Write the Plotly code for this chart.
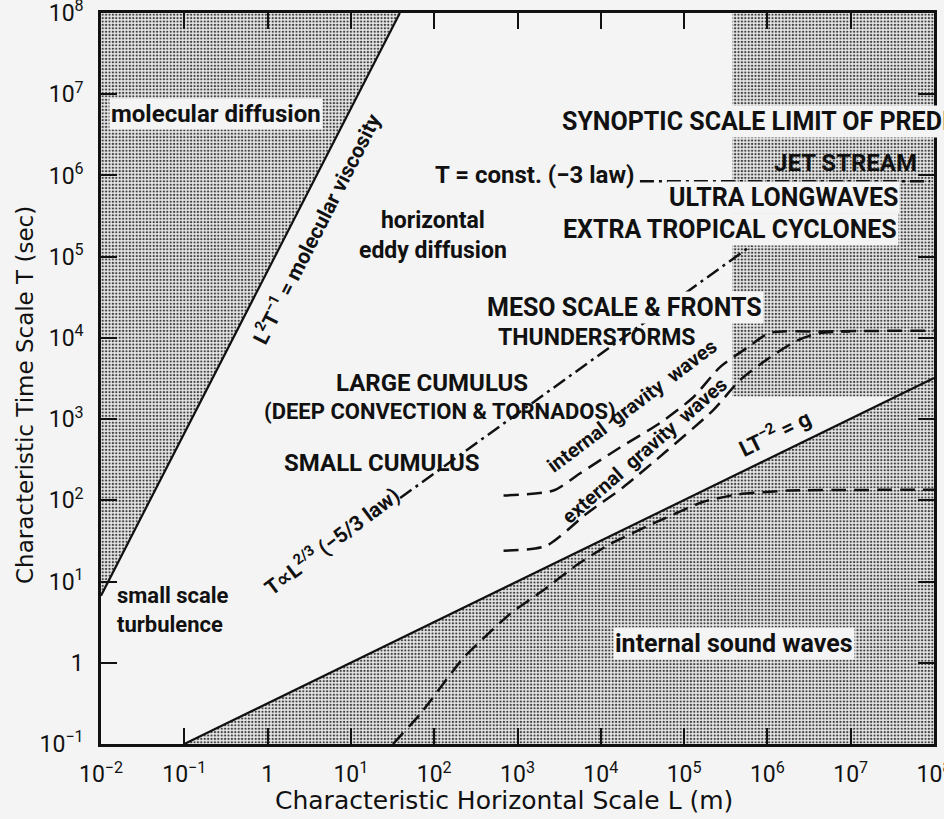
import plotly.graph_objects as go

# ---------------- data ----------------
x_tickvals = [1e-2, 1e-1, 1, 1e1, 1e2, 1e3, 1e4, 1e5, 1e6, 1e7, 1e8]
x_ticktext = ["10<sup>−2</sup>", "10<sup>−1</sup>", "1", "10<sup>1</sup>", "10<sup>2</sup>",
              "10<sup>3</sup>", "10<sup>4</sup>", "10<sup>5</sup>", "10<sup>6</sup>",
              "10<sup>7</sup>", "10<sup>8</sup>"]
y_tickvals = [1e-1, 1, 1e1, 1e2, 1e3, 1e4, 1e5, 1e6, 1e7, 1e8]
y_ticktext = ["10<sup>−1</sup>", "1", "10<sup>1</sup>", "10<sup>2</sup>", "10<sup>3</sup>",
              "10<sup>4</sup>", "10<sup>5</sup>", "10<sup>6</sup>", "10<sup>7</sup>", "10<sup>8</sup>"]

L_MIN, L_MAX = 1e-2, 1e8
T_MIN, T_MAX = 1e-1, 1e8

# L^2 T^-1 = molecular viscosity
visc_L = [1e-2, 38.7]
visc_T = [6.7, 1e8]
# L T^-2 = g
grav_L = [1e-1, 1e8]
grav_T = [1e-1, 3.2e3]
# shaded block (synoptic limit)
block_L = [3.8e5, 1e8]
block_T = [1.9e3, 1e8]
# T ~ L^(2/3)  (-5/3 law)
k53_L = [39, 6.5e5]
k53_T = [107, 1.38e5]
# T = const (-3 law)
const_L = [2.95e4, 9.0e7]
const_T = [8.5e5, 8.5e5]
# internal gravity waves
igw_L = [680, 2.7e3, 5.6e3, 1.7e4, 5.1e4, 1.29e5, 2.7e5, 5.75e5, 1.07e6, 4.3e6, 1e8]
igw_T = [115, 132, 214, 447, 891, 1860, 4370, 7590, 1.15e4, 1.2e4, 1.23e4]
# external gravity waves
egw_L = [680, 2.2e3, 6.8e3, 1.86e4, 6.2e4, 2.24e5, 4.7e5, 1.07e6, 2.3e6, 4.3e6, 9.8e6]
egw_T = [24, 27.5, 69, 145, 407, 1290, 3020, 5750, 9330, 1.15e4, 1.2e4]
# internal sound waves limit
snd_L = [32, 68, 224, 813, 2040, 5130, 1.29e4, 4.27e4, 1.7e5, 4.27e5, 1.74e6, 1e8]
snd_T = [0.1, 0.234, 1.15, 4.0, 7.8, 16, 29, 52, 96, 118, 132, 135]

BG = "#f4f4f4"
FC = "Roboto, Liberation Sans Narrow, DejaVu Sans, sans-serif"
FT = "DejaVu Sans, Open Sans, sans-serif"

pattern = dict(shape=".", size=3.4, solidity=0.36, fgcolor="#404040", bgcolor="#e8e8e8",
               fillmode="replace")

fig = go.Figure()

# shaded regions
fig.add_trace(go.Scatter(x=[visc_L[0], visc_L[1], L_MIN], y=[visc_T[0], visc_T[1], T_MAX],
                         fill="toself", mode="lines", line=dict(width=0), fillpattern=pattern,
                         hoverinfo="skip", showlegend=False))
fig.add_trace(go.Scatter(x=[grav_L[0], grav_L[1], L_MAX], y=[grav_T[0], grav_T[1], T_MIN],
                         fill="toself", mode="lines", line=dict(width=0), fillpattern=pattern,
                         hoverinfo="skip", showlegend=False))
fig.add_trace(go.Scatter(x=[block_L[0], block_L[1], block_L[1], block_L[0]],
                         y=[block_T[0], block_T[0], block_T[1], block_T[1]],
                         fill="toself", mode="lines", line=dict(width=0), fillpattern=pattern,
                         hoverinfo="skip", showlegend=False))

# boundary lines
fig.add_trace(go.Scatter(x=visc_L, y=visc_T, mode="lines", line=dict(color="#111", width=2.2),
                         hoverinfo="skip", showlegend=False))
fig.add_trace(go.Scatter(x=grav_L, y=grav_T, mode="lines", line=dict(color="#111", width=2.2),
                         hoverinfo="skip", showlegend=False))

dashdot = "14px,5px,3px,5px"
fig.add_trace(go.Scatter(x=k53_L, y=k53_T, mode="lines",
                         line=dict(color="#111", width=2.5, dash=dashdot),
                         hoverinfo="skip", showlegend=False))
fig.add_trace(go.Scatter(x=const_L, y=const_T, mode="lines",
                         line=dict(color="#111", width=2.5, dash=dashdot),
                         hoverinfo="skip", showlegend=False))
dashed = "15px,8px"
for Ls, Ts, sm in [(igw_L, igw_T, 0.7), (egw_L, egw_T, 0.7), (snd_L, snd_T, 0.4)]:
    fig.add_trace(go.Scatter(x=Ls, y=Ts, mode="lines", line_shape="spline",
                             line=dict(color="#111", width=2.5, dash=dashed, smoothing=sm),
                             hoverinfo="skip", showlegend=False))

# ---------------- labels ----------------
labels = [
    # text, logL, logT, size, angle, bg, xanchor
    ("molecular diffusion", -0.62, 6.76, 24, 0, True, "center"),
    ("L<sup>2</sup>T<sup>−1</sup> = molecular viscosity", 0.58, 5.35, 21, -63, False, "center"),
    ("horizontal<br>eddy diffusion", 1.99, 5.26, 23, 0, False, "center"),
    ("SYNOPTIC SCALE LIMIT OF PREDICTABILITY", 3.51, 6.66, 25, 0, True, "left"),
    ("T = const. (−3 law)", 3.21, 6.0, 24, 0, False, "center"),
    ("JET STREAM", 6.94, 6.15, 24, 0, False, "center"),
    ("ULTRA LONGWAVES", 6.19, 5.73, 25, 0, True, "center"),
    ("EXTRA TROPICAL CYCLONES", 5.55, 5.34, 25, 0, True, "center"),
    ("MESO SCALE & FRONTS", 4.29, 4.38, 25, 0, True, "center"),
    ("THUNDERSTORMS", 3.95, 4.0, 23, 0, False, "center"),
    ("LARGE CUMULUS", 1.97, 3.45, 24, 0, False, "center"),
    ("(DEEP CONVECTION & TORNADOS)", 2.07, 3.09, 22, 0, False, "center"),
    ("SMALL CUMULUS", 1.37, 2.46, 24, 0, False, "center"),
    ("T∝L<sup>2/3</sup> (−5/3 law)", 0.77, 1.51, 21, -37, False, "center"),
    ("small scale<br>turbulence", -1.14, 0.65, 22, 0, False, "center"),
    ("internal  gravity  waves", 4.37, 3.16, 20, -37, False, "center"),
    ("external  gravity  waves", 4.53, 2.62, 20, -41, False, "center"),
    ("LT<sup>−2</sup> = g", 6.09, 2.84, 22, -26, False, "center"),
    ("internal sound waves", 5.6, 0.24, 25, 0, True, "center"),
]

annotations = []
for text, lx, ly, size, ang, bg, xa in labels:
    annotations.append(dict(
        text=text, x=lx, y=ly, xref="x", yref="y", showarrow=False,
        xanchor=xa, yanchor="middle", textangle=ang,
        align="left" if "turbulence" in text else "center",
        font=dict(family=FC, size=size, color="#111", weight="bold"),
        bgcolor=BG if bg else None, borderpad=1,
    ))

# axis titles (in paper coordinates)
PL, PR, PT, PB = 101, 934, 13, 744
def px_x(px):
    return (px - PL) / (PR - PL)
def px_y(py):
    return (PB - py) / (PB - PT)

annotations.append(dict(text="Characteristic Horizontal Scale L (m)", x=px_x(504), y=px_y(800),
                        xref="paper", yref="paper", showarrow=False, xanchor="center", yanchor="middle",
                        font=dict(family=FT, size=25, color="#111")))
annotations.append(dict(text="Characteristic Time Scale T (sec)", x=px_x(25), y=px_y(395),
                        xref="paper", yref="paper", showarrow=False, xanchor="center", yanchor="middle",
                        textangle=-90, font=dict(family=FT, size=23, color="#111")))

axis_common = dict(type="log", showgrid=False, zeroline=False, showline=True, linewidth=2.5,
                   linecolor="#111", mirror="ticks", ticks="inside", ticklen=16, tickwidth=2,
                   tickcolor="#111", ticklabeloverflow="allow", automargin=False,
                   tickfont=dict(family=FC, size=23, color="#111"))

fig.update_layout(
    width=944, height=819,
    margin=dict(l=PL, r=944 - PR, t=PT, b=819 - PB),
    paper_bgcolor=BG, plot_bgcolor=BG,
    xaxis=dict(range=[-2, 8], tickvals=x_tickvals, ticktext=x_ticktext, ticklabelstandoff=8,
               **axis_common),
    yaxis=dict(range=[-1, 8], tickvals=y_tickvals, ticktext=y_ticktext, ticklabelstandoff=10,
               **axis_common),
    annotations=annotations,
    showlegend=False,
)

fig.write_html("out.html")
